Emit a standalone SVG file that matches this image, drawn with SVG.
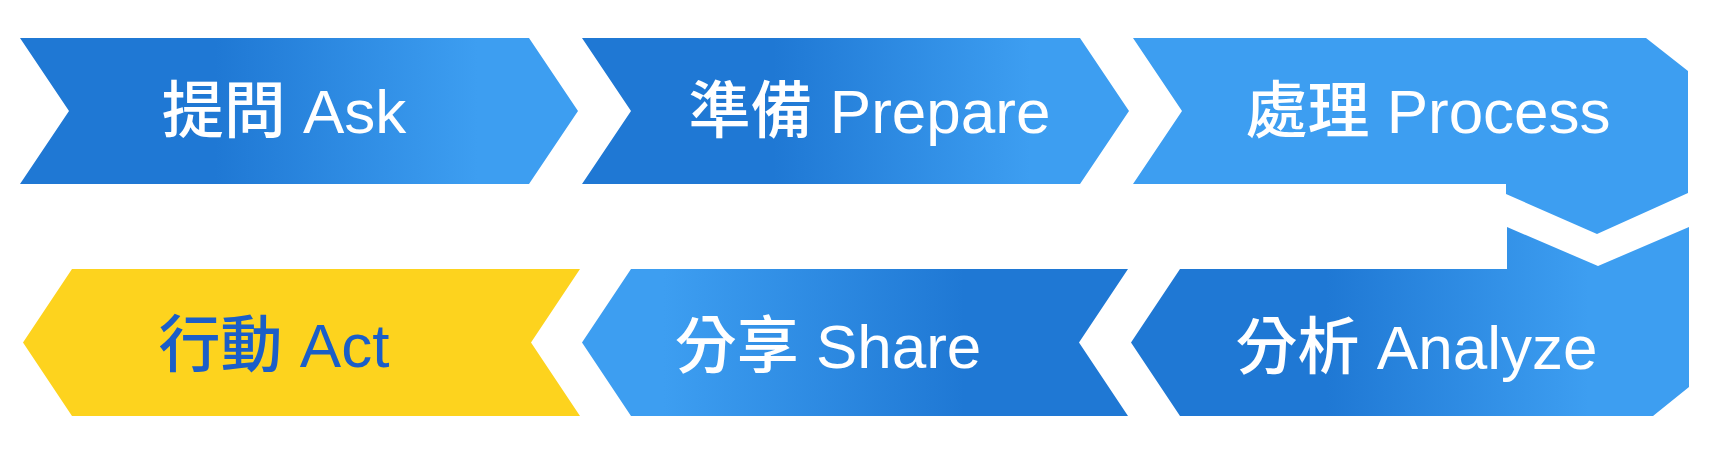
<svg xmlns="http://www.w3.org/2000/svg" width="1718" height="451" viewBox="0 0 1718 451">
<style>
.lbl{font-family:"Liberation Sans","Noto Sans CJK TC",sans-serif;font-size:62px;text-anchor:middle;fill:#ffffff}
.cjk{font-weight:500}
.dark{fill:#1a5ec8}
</style>
<defs>
<linearGradient id="gR" x1="0" y1="0" x2="1" y2="0">
<stop offset="0" stop-color="#1f78d4"/>
<stop offset="0.35" stop-color="#1f78d4"/>
<stop offset="0.82" stop-color="#3d9ef1"/>
<stop offset="1" stop-color="#3d9ef1"/>
</linearGradient>
<linearGradient id="gL" x1="0" y1="0" x2="1" y2="0">
<stop offset="0" stop-color="#3d9ef1"/>
<stop offset="0.15" stop-color="#3d9ef1"/>
<stop offset="0.7" stop-color="#1f78d4"/>
<stop offset="1" stop-color="#1f78d4"/>
</linearGradient>
</defs>
<rect width="1718" height="451" fill="#ffffff"/>
<g id="ask">
<path d="M20,38 L529,38 L578,111 L529,184 L20,184 L69,111 Z" fill="url(#gR)"/>
<text class="lbl" x="284" y="133"><tspan class="cjk">提問</tspan> Ask</text>
</g>
<g id="prepare">
<path d="M582,38 L1080,38 L1129,111 L1080,184 L582,184 L631,111 Z" fill="url(#gR)"/>
<text class="lbl" x="869.5" y="133"><tspan class="cjk">準備</tspan> Prepare</text>
</g>
<g id="process">
<path d="M1133,38 L1646,38 L1688,71 L1688,193 L1597,234 L1506,194 L1506,184 L1133,184 L1182,111 Z" fill="#3d9ef1"/>
<text class="lbl" x="1428" y="133"><tspan class="cjk">處理</tspan> Process</text>
</g>
<g id="analyze">
<path d="M1507,227 L1598,266 L1689,227 L1689,387 L1653,416 L1180,416 L1131,342.5 L1180,269 L1507,269 Z" fill="url(#gR)"/>
<text class="lbl" x="1416.5" y="369"><tspan class="cjk">分析</tspan> Analyze</text>
</g>
<g id="share">
<path d="M631,269 L1128,269 L1079,342.5 L1128,416 L631,416 L582,342.5 Z" fill="url(#gL)"/>
<text class="lbl" x="828" y="367.5"><tspan class="cjk">分享</tspan> Share</text>
</g>
<g id="act">
<path d="M72,269 L580,269 L531,342.5 L580,416 L72,416 L23,342.5 Z" fill="#fdd31e"/>
<text class="lbl dark" x="274" y="366.5"><tspan class="cjk">行動</tspan> Act</text>
</g>
<g id="connectors"></g>
</svg>
